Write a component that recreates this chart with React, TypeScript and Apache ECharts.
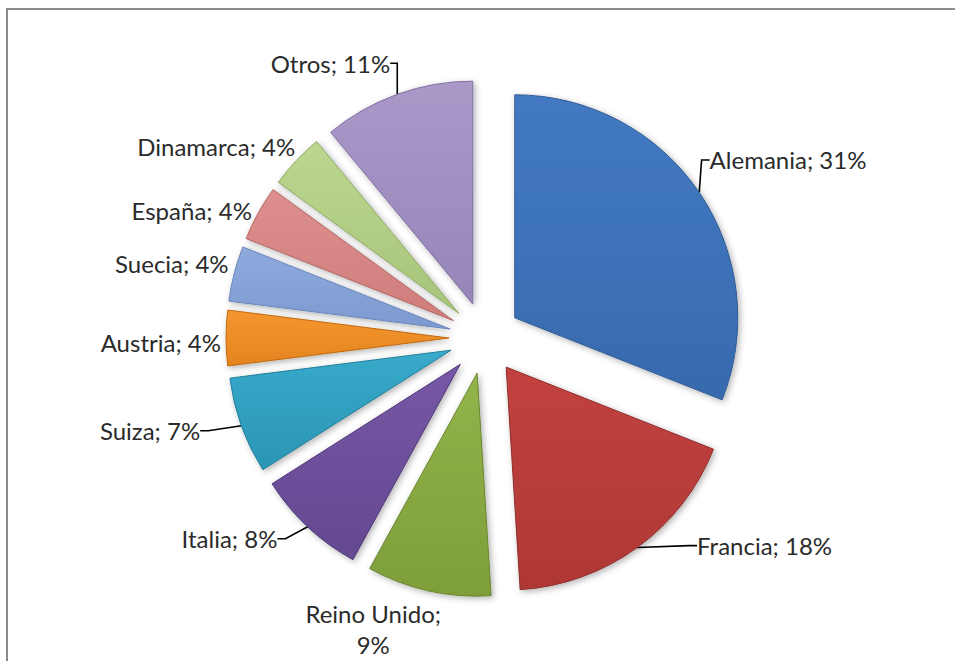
import React, { useEffect, useRef } from "react";
import * as echarts from "echarts";

const categories = [
  "Alemania",
  "Francia",
  "Reino Unido",
  "Italia",
  "Suiza",
  "Austria",
  "Suecia",
  "España",
  "Dinamarca",
  "Otros",
];
const values = [31, 18, 9, 8, 7, 4, 4, 4, 4, 11];

const colors = [
  ["#4279C2", "#386AAE"],
  ["#C2423F", "#AE3835"],
  ["#92B44A", "#7E9E3A"],
  ["#7657A6", "#644890"],
  ["#38AACB", "#2B95B5"],
  ["#F59630", "#E4841E"],
  ["#8EAADD", "#7D99CF"],
  ["#DE8F8D", "#CE7D7B"],
  ["#BCD68F", "#A8C47A"],
  ["#AA98C9", "#9685B8"],
];
const borders = [
  "#2E5A94",
  "#8E2E2C",
  "#6A8630",
  "#53397A",
  "#237E99",
  "#C06C12",
  "#6A86BC",
  "#B26866",
  "#8FAA66",
  "#7F6EA2",
];
// label placement tweaks (relative nudges from ECharts' default placement)
const labelNudgeX = [-15, 38, -39, -7, -14, 23, 22, 20, 23, 11];
const labelNudgeY = [-24, -14, 24, 1, 0, 4, -6, 5, -4, -17];
const showLeader = [true, true, false, true, true, false, false, false, false, true];

const CENTER_X = 485;
const CENTER_Y = 338;
const RADIUS = 223;
const EXPLODE = 36;

export default function App() {
  const ref = useRef<HTMLDivElement>(null);
  useEffect(() => {
    document.body.style.margin = "0";
    const chart = echarts.init(ref.current!, null, { renderer: "svg" });
    const total = values.reduce((a, b) => a + b, 0);
    let cum = 0;
    const series = categories.map((name, k) => {
      const mid = ((cum + values[k] / 2) / total) * Math.PI * 2;
      cum += values[k];
      const cx = CENTER_X + EXPLODE * Math.sin(mid);
      const cy = CENTER_Y - EXPLODE * Math.cos(mid);
      const data = categories.map((n, i) => {
        const on = i === k;
        return {
          name: n,
          value: values[i],
          itemStyle: on
            ? {
                color: new echarts.graphic.LinearGradient(0, 0, 0, 1, [
                  { offset: 0, color: colors[i][0] },
                  { offset: 1, color: colors[i][1] },
                ]),
                borderColor: borders[i],
                borderWidth: 1,
                shadowBlur: 6,
                shadowOffsetX: 2,
                shadowOffsetY: 2,
                shadowColor: "rgba(0,0,0,0.3)",
              }
            : { color: "rgba(0,0,0,0)", borderWidth: 0, shadowBlur: 0 },
          label: on
            ? n === "Reino Unido"
              ? { show: true, formatter: "{b};\n{c}%" }
              : { show: true }
            : { show: false },
          labelLine: { show: on && showLeader[i] },
        };
      });
      return {
        type: "pie",
        name,
        center: [cx, cy],
        radius: [0, RADIUS],
        startAngle: 90,
        clockwise: true,
        avoidLabelOverlap: false,
        silent: true,
        z: 2,
        data,
        label: {
          position: "outside",
          formatter: "{b}; {c}%",
          fontFamily: "Lato",
          fontSize: 24,
          color: "#2b2b2b",
          lineHeight: 31,
        },
        labelLine: {
          length: 15,
          length2: 8,
          lineStyle: { color: "#000000", width: 1.6 },
        },
        labelLayout: (p: any) => {
          const i = p.dataIndex;
          if (i !== k) return {};
          const r = p.labelRect;
          const y = r.y + r.height / 2 + labelNudgeY[i];
          if (categories[i] === "Reino Unido") {
            return {
              x: r.x + r.width + labelNudgeX[i],
              y,
              align: "center",
              verticalAlign: "middle",
            };
          }
          return p.align === "left"
            ? { x: r.x + labelNudgeX[i], y, align: "left", verticalAlign: "middle" }
            : {
                x: r.x + r.width + labelNudgeX[i],
                y,
                align: "right",
                verticalAlign: "middle",
              };
        },
        emphasis: { disabled: true },
      };
    });
    chart.setOption({
      animation: false,
      backgroundColor: "#ffffff",
      graphic: [
        {
          type: "rect",
          shape: { x: 7, y: 9, width: 1000, height: 700 },
          style: { fill: "none", stroke: "#8a8a8a", lineWidth: 2 },
          silent: true,
        },
      ],
      series,
    });
    return () => chart.dispose();
  }, []);
  return <div ref={ref} style={{ width: 955, height: 661 }} />;
}
